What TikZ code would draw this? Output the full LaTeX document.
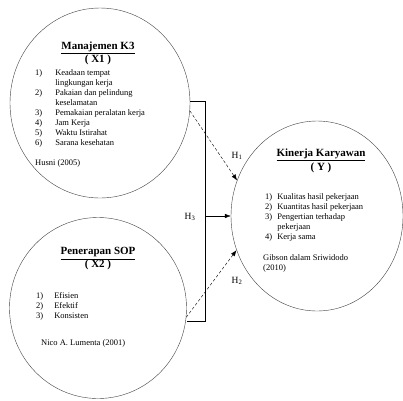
\documentclass[tikz,border=0pt]{standalone}
\usepackage{fontspec}
\setmainfont{Liberation Serif}
\usetikzlibrary{arrows.meta,shapes.geometric}
\tikzset{
  varcircle/.style={draw=black!75, ellipse, thin, inner sep=0pt},
  titlebox/.style={font=\fontsize{11}{12}\selectfont\bfseries, inner sep=0pt, align=center},
  listbox/.style={font=\fontsize{8.5}{10}\selectfont, anchor=north west, inner sep=0pt, align=left},
  hyp/.style={-{Latex[length=6pt,width=4.5pt]}, thin, dashed, dash pattern=on 3pt off 2pt},
  link/.style={thin},
  hlabel/.style={font=\fontsize{9.5}{10}\selectfont, inner sep=0pt},
}
\newcommand{\hsub}[1]{H\textsubscript{#1}}

\begin{document}
\begin{tikzpicture}[x=1pt, y=-1pt]
  \useasboundingbox (0,0) rectangle (403,400);

  % variable circles
  \node[varcircle, minimum width=180pt, minimum height=190pt] (k3)  at (100,103) {};
  \node[varcircle, minimum width=177pt, minimum height=181pt] (sop) at (98,308)  {};
  \node[varcircle, minimum width=172pt, minimum height=190pt] (kin) at (317,216) {};

  % Manajemen K3
  \node[titlebox] (k3title) at (98,53) {\underline{Manajemen K3}\\[1pt]( X1 )};
  \node[listbox] (k3list) at (35,68) {%
    \begin{tabular}{@{}l@{\hspace{13pt}}l@{}}
    1) & Keadaan tempat\\
       & lingkungan kerja\\
    2) & Pakaian dan pelindung\\
       & keselamatan\\
    3) & Pemakaian peralatan kerja\\
    4) & Jam Kerja\\
    5) & Waktu Istirahat\\
    6) & Sarana kesehatan
    \end{tabular}};
  \node[listbox] (k3src) at (35,159) {Husni (2005)};

  % Penerapan SOP
  \node[titlebox] (soptitle) at (98,259) {\underline{Penerapan SOP}\\[1pt]( X2 )};
  \node[listbox] (soplist) at (36,291) {%
    \begin{tabular}{@{}l@{\hspace{11pt}}l@{}}
    1) & Efisien\\
    2) & Efektif\\
    3) & Konsisten
    \end{tabular}};
  \node[listbox] (sopsrc) at (41,339) {Nico A. Lumenta (2001)};

  % Kinerja Karyawan
  \node[titlebox] (kintitle) at (321,161) {\underline{Kinerja\ Karyawan}\\[1pt]( Y )};
  \node[listbox] (kinlist) at (265,192) {%
    \begin{tabular}{@{}l@{\hspace{5pt}}l@{}}
    1) & Kualitas hasil pekerjaan\\
    2) & Kuantitas hasil pekerjaan\\
    3) & Pengertian terhadap\\
       & pekerjaan\\
    4) & Kerja sama
    \end{tabular}};
  \node[listbox] (kinsrc) at (263,254) {Gibson dalam Sriwidodo\\(2010)};

  % bracket for H3
  \coordinate (btop) at (205,101);
  \coordinate (bmid) at (205,216);
  \coordinate (bbot) at (205,321);
  \draw[link] (btop -| k3.east) -- (btop) -- (bbot) -- (bbot -| sop.east);
  \draw[link, -{Latex[length=6pt,width=4.5pt]}] (bmid) -- (kin.west);

  % partial hypotheses
  \draw[hyp] (k3.-5) -- (kin.156);
  \draw[hyp] (sop.-6) -- (kin.203);

  \node[hlabel] (h1) at (237,156) {\hsub{1}};
  \node[hlabel] (h2) at (237,281) {\hsub{2}};
  \node[hlabel] (h3) at (190,217) {\hsub{3}};
\end{tikzpicture}
\end{document}
